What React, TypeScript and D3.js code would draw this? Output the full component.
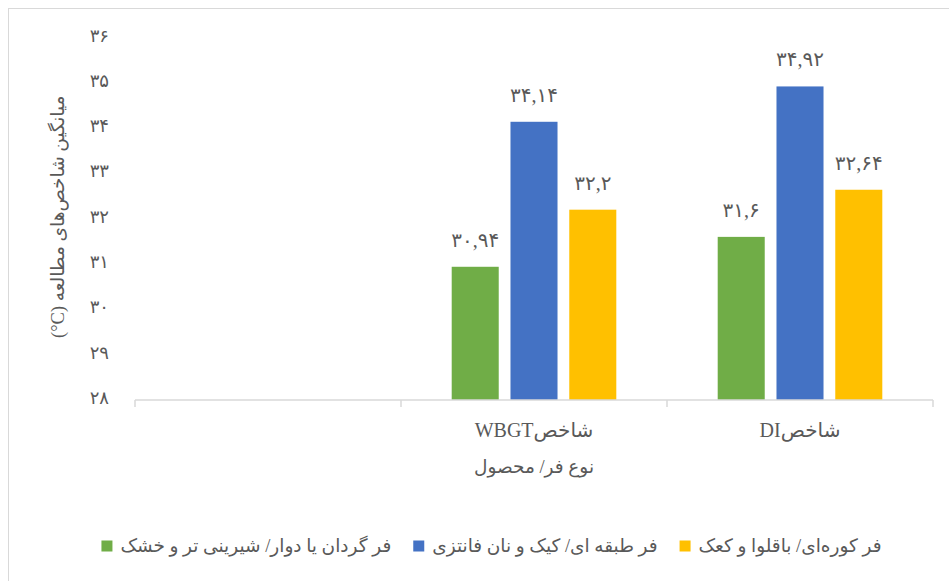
import * as d3 from "d3"
import { useEffect, useRef } from "react"

const categories = ["", "شاخصWBGT", "شاخصDI"]
const seriesNames = [
    "فر گردان یا دوار/ شیرینی تر و خشک",
    "فر طبقه ای/ کیک و نان فانتزی",
    "فر کوره‌ای/ باقلوا و کعک",
]
const greenValues = [null, 30.94, 31.6]
const blueValues = [null, 34.14, 34.92]
const yellowValues = [null, 32.2, 32.64]
const yTicks = [28, 29, 30, 31, 32, 33, 34, 35, 36]
const yTitle = "میانگین شاخص‌های مطالعه (\u200E°C)"
const xTitle = "نوع فر/ محصول"

const colors = ["#70ad47", "#4472c4", "#ffc000"]

const faDigits = "۰۱۲۳۴۵۶۷۸۹"
const toFa = (s: string) => s.replace(/[0-9]/g, d => faDigits[+d]).replace(".", ",")

export default function App() {
    const svgRef = useRef<SVGSVGElement>(null)

    useEffect(() => {
        const width = 949
        const height = 581
        const left = 135
        const right = 933
        const bottom = 400
        const top = 37.5
        const textColor = "#595959"
        const font = "'Liberation Serif', 'DejaVu Sans', serif"

        if (svgRef.current !== null) {
            svgRef.current.innerHTML = ""
        }

        const svg = d3.select(svgRef.current)
            .attr("width", width)
            .attr("height", height)

        const series = [greenValues, blueValues, yellowValues]

        const x0 = d3.scaleBand<number>(d3.range(categories.length), [left, right])
        const x1 = d3.scaleBand<number>(d3.range(series.length), [50.7, x0.bandwidth() - 50.7])
            .paddingInner(0.2)
        const y = d3.scaleLinear([28, 36], [bottom, top])

        // chart border
        svg.append("rect")
            .attr("x", 8.5).attr("y", 8.5)
            .attr("width", 1000).attr("height", 1000)
            .attr("fill", "white")
            .attr("stroke", "#d9d9d9")

        // bars
        const groups = svg.append("g")
            .selectAll("g")
            .data(series)
            .join("g")
            .attr("fill", (_, i) => colors[i])

        groups.selectAll("rect")
            .data((vals, si) => vals.map((v, ci) => ({ v, ci, si })).filter(d => d.v !== null))
            .join("rect")
            .attr("x", d => x0(d.ci)! + x1(d.si)!)
            .attr("width", x1.bandwidth())
            .attr("y", d => y(d.v as number))
            .attr("height", d => bottom - y(d.v as number))

        groups.selectAll("text")
            .data((vals, si) => vals.map((v, ci) => ({ v, ci, si })).filter(d => d.v !== null))
            .join("text")
            .attr("x", d => x0(d.ci)! + x1(d.si)! + x1.bandwidth() / 2)
            .attr("y", d => y(d.v as number) - 27)
            .attr("text-anchor", "middle")
            .attr("dominant-baseline", "central")
            .attr("fill", textColor)
            .attr("font-family", font)
            .attr("font-size", 20)
            .attr("letter-spacing", 3.5)
            .text(d => toFa(String(d.v)))

        // x axis
        const axis = svg.append("g").attr("stroke", "#d9d9d9").attr("stroke-width", 1.5)
        axis.append("line")
            .attr("x1", left).attr("x2", right)
            .attr("y1", bottom).attr("y2", bottom)
        axis.selectAll("line.tick")
            .data(d3.range(categories.length + 1))
            .join("line")
            .attr("class", "tick")
            .attr("x1", i => left + i * x0.step()).attr("x2", i => left + i * x0.step())
            .attr("y1", bottom).attr("y2", bottom + 7)

        svg.append("g")
            .selectAll("text")
            .data(categories)
            .join("text")
            .attr("x", (_, i) => x0(i)! + x0.bandwidth() / 2)
            .attr("y", 430)
            .attr("direction", "rtl")
            .attr("text-anchor", "middle")
            .attr("dominant-baseline", "central")
            .attr("fill", textColor)
            .attr("font-family", font)
            .attr("font-size", 20)
            .text(d => d)

        svg.append("text")
            .attr("x", x0(1)! + x0.bandwidth() / 2)
            .attr("y", 467)
            .attr("text-anchor", "middle")
            .attr("dominant-baseline", "central")
            .attr("fill", textColor)
            .attr("font-family", font)
            .attr("font-size", 18.5)
            .text(xTitle)

        // y axis labels
        svg.append("g")
            .selectAll("text")
            .data(yTicks)
            .join("text")
            .attr("x", 109)
            .attr("y", d => y(d) - 2)
            .attr("text-anchor", "end")
            .attr("dominant-baseline", "central")
            .attr("fill", textColor)
            .attr("font-family", font)
            .attr("font-size", 18)
            .text(d => toFa(String(d)))

        svg.append("text")
            .attr("transform", `translate(58, ${y(32) - 2}) rotate(-90)`)
            .attr("direction", "rtl")
            .attr("text-anchor", "middle")
            .attr("dominant-baseline", "central")
            .attr("fill", textColor)
            .attr("font-family", font)
            .attr("font-size", 18.5)
            .text(yTitle)

        // legend
        const legend = svg.append("g")
        const items = seriesNames.map((name, i) => {
            const t = legend.append("text")
                .attr("y", 546)
                .attr("dominant-baseline", "central")
                .attr("fill", textColor)
                .attr("font-family", font)
                .attr("font-size", 18.5)
                .text(name)
            const w = (t.node() as SVGTextElement).getComputedTextLength()
            return { t, w, i }
        })
        const sq = 11, gap1 = 8, gap2 = 22
        const total = d3.sum(items, d => sq + gap1 + d.w) + gap2 * (items.length - 1)
        let cx = 491.5 - total / 2
        items.forEach(d => {
            legend.append("rect")
                .attr("x", cx).attr("y", 540.5)
                .attr("width", sq).attr("height", sq)
                .attr("fill", colors[d.i])
            d.t.attr("x", cx + sq + gap1)
            cx += sq + gap1 + d.w + gap2
        })
    }, [])

    return <>
        <svg ref={svgRef} style={{ position: "absolute", left: 0, top: 0 }}></svg>
    </>
}
